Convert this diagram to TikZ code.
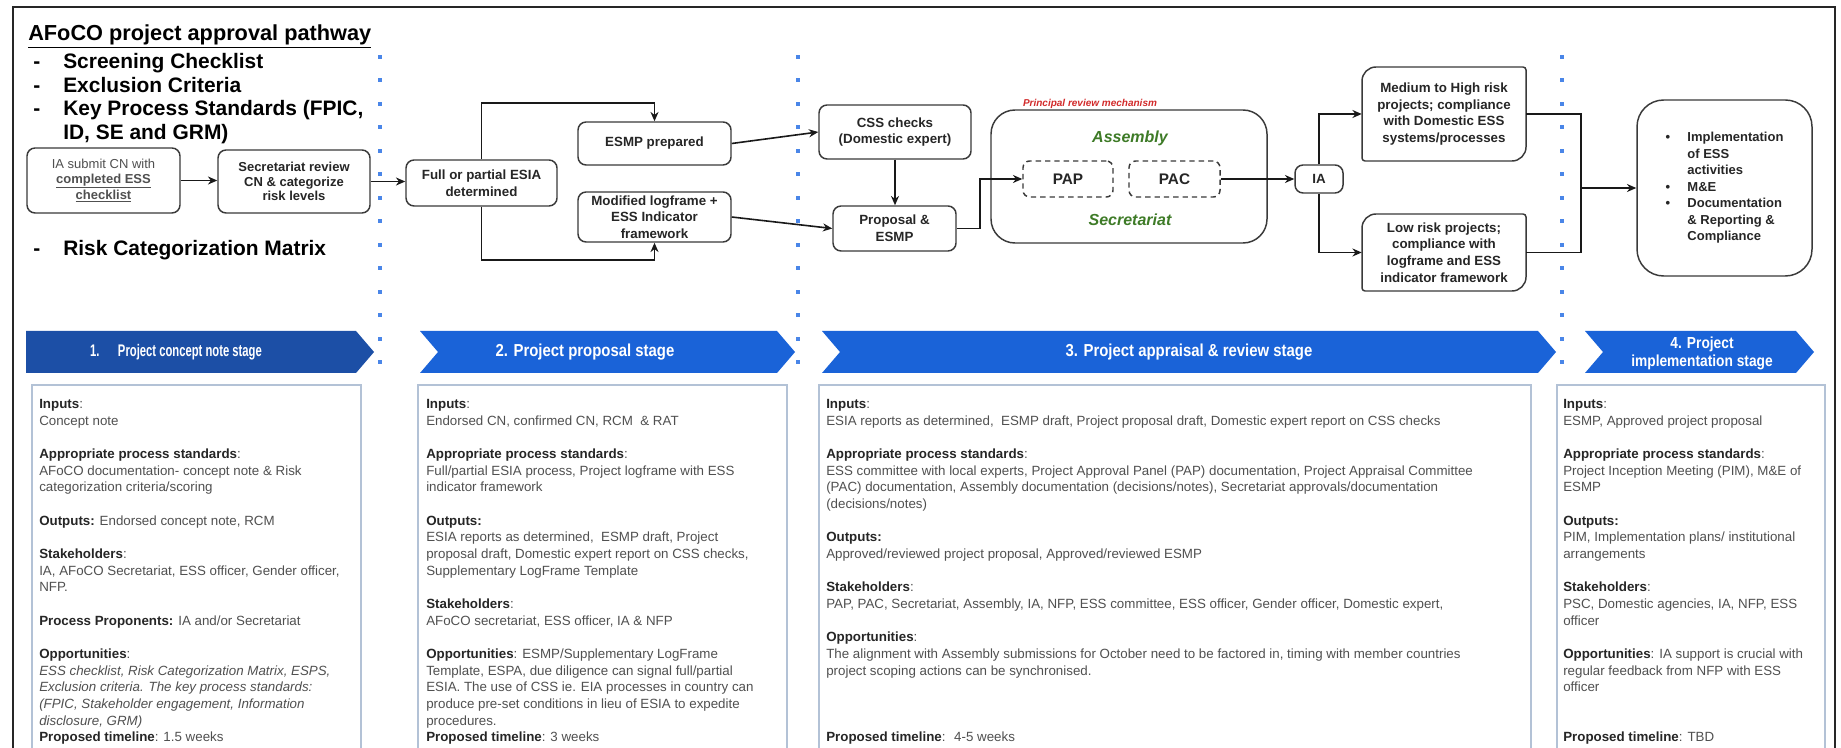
\documentclass[tikz,border=0pt]{standalone}
\usepackage{fontspec}
\setmainfont{Liberation Sans}
\newfontfamily\chevfont[FakeStretch=0.86]{Liberation Sans}
\newfontfamily\chevnarrow[FakeStretch=0.67]{Liberation Sans}
\usetikzlibrary{arrows.meta,calc}

\definecolor{boxline}{HTML}{3A3A3A}
\definecolor{txtdark}{HTML}{262626}
\definecolor{txtgray}{HTML}{505050}
\definecolor{dotblue}{HTML}{4A86E8}
\definecolor{chevA}{HTML}{1C4FA6}
\definecolor{chevB}{HTML}{1A63D8}
\definecolor{panelline}{HTML}{B3C2D6}
\definecolor{asmgreen}{HTML}{3E7B27}
\definecolor{prmred}{HTML}{D22B2B}

\newcommand\lab[1]{{\bfseries\color{txtdark}#1}}
\newcommand\dgbox[4]{%
  \draw[boxln] (#1,#2+14) .. controls (#1,#2+6.3) and (#1+6.3,#2) .. (#1+14,#2)
   -- (#3-3,#2) .. controls (#3-1.35,#2) and (#3,#2+1.35) .. (#3,#2+3)
   -- (#3,#4-14) .. controls (#3,#4-6.3) and (#3-6.3,#4) .. (#3-14,#4)
   -- (#1+3,#4) .. controls (#1+1.35,#4) and (#1,#4-1.35) .. (#1,#4-3) -- cycle;}

\tikzset{
  span/.style n args={4}{at={({(#1+#3)/2},{(#2+#4)/2})},
    minimum width={(#3-#1)*0.75pt}, minimum height={(#4-#2)*0.75pt}},
  boxln/.style={draw=boxline, line width=1.1pt},
  box/.style={boxln, rounded corners=6pt, inner sep=0pt, align=center, text=txtdark,
    font=\bfseries\fontsize{10pt}{12.5pt}\selectfont},
  smallbox/.style={box, font=\bfseries\fontsize{9.75pt}{11pt}\selectfont},
  plainbox/.style={inner sep=0pt, align=center, text=txtdark,
    font=\bfseries\fontsize{10pt}{12.5pt}\selectfont},
  dashbox/.style={draw=boxline, dash pattern=on 4pt off 3pt, line width=1.1pt, rounded corners=5pt,
    inner sep=0pt, text=txtdark, font=\bfseries\fontsize{11.5pt}{13pt}\selectfont},
  conn/.style={line width=1.2pt, draw=black!90},
  arr/.style={conn, -{Stealth[length=7pt,width=6pt]}},
  panel/.style={draw=panelline, line width=1.1pt},
  paneltext/.style={anchor=north west, inner sep=0pt, align=left, text=txtgray,
    font=\fontsize{10pt}{12.5pt}\selectfont},
  listfont/.style={anchor=base west, inner sep=0pt, text=black,
    font=\bfseries\fontsize{15.7pt}{18pt}\selectfont},
  chevtext/.style={inner sep=0pt, align=center, text=white,
    font=\chevfont\bfseries\fontsize{13pt}{14pt}\selectfont},
  greenlab/.style={inner sep=0pt, text=asmgreen, font=\bfseries\itshape\fontsize{12pt}{14pt}\selectfont},
}

\begin{document}
\begin{tikzpicture}[x=0.75pt,y=-0.75pt]
\useasboundingbox (0,0) rectangle (1841,748);
\clip (0,0) rectangle (1841,748);
\fill[white] (0,0) rectangle (1841,748);

% outer frame
\draw[line width=1.5pt, black!85] (13,760) -- (13,7) -- (1835,7) -- (1835,760);

% dotted separators
\foreach \xx in {380,798,1562}
  \foreach \k in {0,...,13}
    \fill[dotblue] ({\xx-2},{55+23.5*\k}) rectangle ++(4,4);

% title and list
\node[listfont, font=\bfseries\fontsize{16.3pt}{18pt}\selectfont] (title) at (28,41) {\underline{AFoCO project approval pathway}};
\node[listfont] (d1) at (33,69) {-};
\node[listfont] (l1) at (63,69) {Screening Checklist};
\node[listfont] (d2) at (33,93) {-};
\node[listfont] (l2) at (63,93) {Exclusion Criteria};
\node[listfont] (d3) at (33,116) {-};
\node[listfont] (l3) at (63,116) {Key Process Standards (FPIC,};
\node[listfont] (l3b) at (63,140) {ID, SE and GRM)};
\node[listfont] (d4) at (33,256) {-};
\node[listfont] (l4) at (63,256) {Risk Categorization Matrix};

% top flow boxes
\node[smallbox, text=txtgray, span={27}{148}{180}{213}] (ia1)
  {{\mdseries IA submit CN with}\\\underline{completed ESS}\\\underline{checklist}};
\node[smallbox, span={218}{150}{370}{213}] (sec)
  {Secretariat review\\CN \& categorize\\risk levels};
\node[box, span={406}{160}{557}{206}] (esia) {Full or partial ESIA\\determined};
\node[box, span={578}{122}{731}{165}] (esmp) {ESMP prepared};
\node[box, span={578}{192}{731}{242}] (mlog) {Modified logframe +\\ESS Indicator\\framework};
\node[box, span={819}{105}{971}{159}] (css) {CSS checks\\(Domestic expert)};
\node[box, span={833}{206}{956}{251}] (prop) {Proposal \&\\ESMP};

\node[box, rounded corners=18pt, span={991}{110}{1267}{243}] (prm) {};
\node[inner sep=0pt, text=prmred, font=\bfseries\itshape\fontsize{7.5pt}{9pt}\selectfont]
  (prmlab) at (1090,104) {Principal review mechanism};
\node[greenlab] (asm) at (1130,138) {Assembly};
\node[greenlab] (secr) at (1130,220) {Secretariat};
\node[dashbox, span={1023}{161}{1113}{197}] (pap) {PAP};
\node[dashbox, span={1129}{161}{1220}{197}] (pac) {PAC};

\node[box, span={1295}{165}{1343}{193}] (ia) {IA};

\node[plainbox, span={1362}{67}{1526}{161}] (med)
  {Medium to High risk\\projects; compliance\\with Domestic ESS\\systems/processes};
\dgbox{1362}{67}{1526}{161}
\node[plainbox, span={1362}{214}{1526}{291}] (low)
  {Low risk projects;\\compliance with\\logframe and ESS\\indicator framework};
\dgbox{1362}{214}{1526}{291}

\node[box, rounded corners=20pt, span={1637}{100}{1812}{276}, font=\bfseries\fontsize{9.75pt}{12.4pt}\selectfont] (fin)
  {\begin{tabular}{@{}l@{\hspace{13pt}}l@{}}
   \textbullet & Implementation\\ & of ESS\\ & activities\\
   \textbullet & M\&E\\
   \textbullet & Documentation\\ & \& Reporting \&\\ & Compliance
   \end{tabular}};

% connectors
\coordinate (topy) at (0,103);
\coordinate (boty) at (0,260);
\coordinate (merge) at (1581,188);
\draw[arr] (ia1.east) -- (ia1.east -| sec.west);
\draw[arr] (sec.east) -- (sec.east -| esia.west);
\draw[arr] (esia.north) -- (esia.north |- topy) -| (esmp.north);
\draw[arr] (esia.south) -- (esia.south |- boty) -| (mlog.south);
\draw[arr] (esmp.east) -- (css.west);
\draw[arr] (mlog.east) -- (prop.west);
\draw[arr] (css.south) -- (css.south |- prop.north);
\draw[arr] (prop.east) -- ++(23,0) |- (pap.west);
\draw[arr] (pac.east) -- (pac.east -| ia.west);
\draw[arr] (ia.north) |- (med.west);
\draw[arr] (ia.south) |- (low.west);
\draw[conn] (med.east) -| (merge);
\draw[conn] (low.east) -| (merge);
\draw[arr] (merge) -- (merge -| fin.west);

% stage chevrons
\fill[chevA] (26,331) -- (356,331) -- (374,352) -- (356,373) -- (26,373) -- cycle;
\fill[chevB] (420,331) -- (777,331) -- (795,352) -- (777,373) -- (420,373) -- (438,352) -- cycle;
\fill[chevB] (822,331) -- (1538,331) -- (1556,352) -- (1538,373) -- (822,373) -- (840,352) -- cycle;
\fill[chevB] (1585,331) -- (1796,331) -- (1814,352) -- (1796,373) -- (1585,373) -- (1603,352) -- cycle;
\node[chevtext, font=\chevnarrow\bfseries\fontsize{12.6pt}{14pt}\selectfont] (c1) at (176,352) {1.\hspace{1.1em}Project concept note stage};
\node[chevtext] (c2) at (585,352) {2. Project proposal stage};
\node[chevtext] (c3) at (1189,352) {3. Project appraisal \& review stage};
\node[chevtext, font=\chevfont\bfseries\fontsize{12pt}{13.5pt}\selectfont] (c4) at (1702,353) {4. Project\\implementation stage};

% panels
\draw[panel] (32,760) -- (32,385) -- (361,385) -- (361,760);
\draw[panel] (418,760) -- (418,385) -- (787,385) -- (787,760);
\draw[panel] (819,760) -- (819,385) -- (1531,385) -- (1531,760);
\draw[panel] (1557,760) -- (1557,385) -- (1825,385) -- (1825,760);

\node[paneltext] (p1) at (39,399) {%
\lab{Inputs}:\\
Concept note\\[12.5pt]
\lab{Appropriate process standards}:\\
AFoCO documentation- concept note \& Risk\\
categorization criteria/scoring\\[12.5pt]
\lab{Outputs:} Endorsed concept note, RCM\\[12.5pt]
\lab{Stakeholders}:\\
IA, AFoCO Secretariat, ESS officer, Gender officer,\\
NFP.\\[12.5pt]
\lab{Process Proponents:} IA and/or Secretariat\\[12.5pt]
\lab{Opportunities}:\\
\textit{ESS checklist, Risk Categorization Matrix, ESPS,}\\
\textit{Exclusion criteria. The key process standards:}\\
\textit{(FPIC, Stakeholder engagement, Information}\\
\textit{disclosure, GRM)}\\
\lab{Proposed timeline}: 1.5 weeks};

\node[paneltext] (p2) at (426,399) {%
\lab{Inputs}:\\
Endorsed CN, confirmed CN, RCM \ \& RAT\\[12.5pt]
\lab{Appropriate process standards}:\\
Full/partial ESIA process, Project logframe with ESS\\
indicator framework\\[12.5pt]
\lab{Outputs:}\\
ESIA reports as determined, \ ESMP draft, Project\\
proposal draft, Domestic expert report on CSS checks,\\
Supplementary LogFrame Template\\[12.5pt]
\lab{Stakeholders}:\\
AFoCO secretariat, ESS officer, IA \& NFP\\[12.5pt]
\lab{Opportunities}: ESMP/Supplementary LogFrame\\
Template, ESPA, due diligence can signal full/partial\\
ESIA. The use of CSS ie. EIA processes in country can\\
produce pre-set conditions in lieu of ESIA to expedite\\
procedures.\\
\lab{Proposed timeline}: 3 weeks};

\node[paneltext] (p3) at (826,399) {%
\lab{Inputs}:\\
ESIA reports as determined, \ ESMP draft, Project proposal draft, Domestic expert report on CSS checks\\[12.5pt]
\lab{Appropriate process standards}:\\
ESS committee with local experts, Project Approval Panel (PAP) documentation, Project Appraisal Committee\\
(PAC) documentation, Assembly documentation (decisions/notes), Secretariat approvals/documentation\\
(decisions/notes)\\[12.5pt]
\lab{Outputs:}\\
Approved/reviewed project proposal, Approved/reviewed ESMP\\[12.5pt]
\lab{Stakeholders}:\\
PAP, PAC, Secretariat, Assembly, IA, NFP, ESS committee, ESS officer, Gender officer, Domestic expert,\\[12.5pt]
\lab{Opportunities}:\\
The alignment with Assembly submissions for October need to be factored in, timing with member countries\\
project scoping actions can be synchronised.\\[37.5pt]
\lab{Proposed timeline}: \ 4-5 weeks};

\node[paneltext] (p4) at (1563,399) {%
\lab{Inputs}:\\
ESMP, Approved project proposal\\[12.5pt]
\lab{Appropriate process standards}:\\
Project Inception Meeting (PIM), M\&E of\\
ESMP\\[12.5pt]
\lab{Outputs:}\\
PIM, Implementation plans/ institutional\\
arrangements\\[12.5pt]
\lab{Stakeholders}:\\
PSC, Domestic agencies, IA, NFP, ESS\\
officer\\[12.5pt]
\lab{Opportunities}: IA support is crucial with\\
regular feedback from NFP with ESS\\
officer\\[25pt]
\lab{Proposed timeline}: TBD};
\end{tikzpicture}
\end{document}
